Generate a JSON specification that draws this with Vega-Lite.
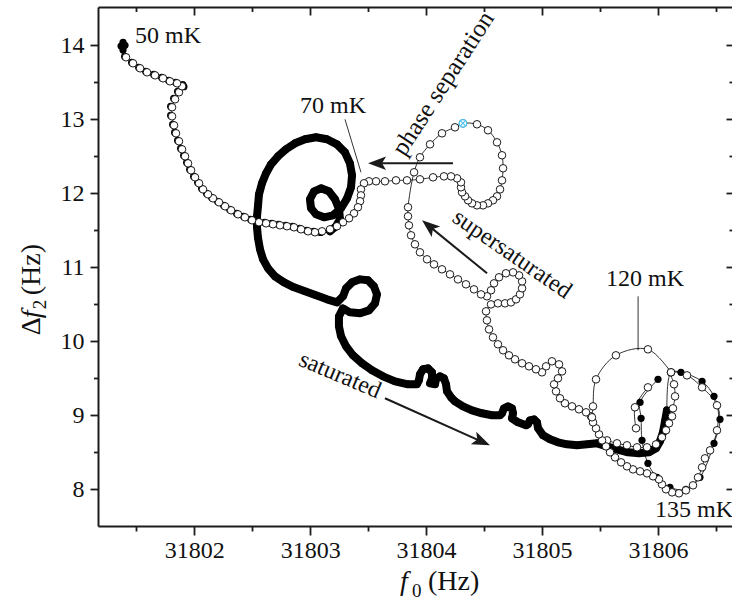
{
  "$schema": "https://vega.github.io/schema/vega-lite/v6.json",
  "width": 635,
  "height": 519,
  "autosize": {"type": "none"},
  "padding": {"left": 98, "top": 7, "right": 0, "bottom": 84},
  "background": "white",
  "config": {
    "view": {"stroke": null},
    "axis": {
      "domainColor": "#1c1c1c",
      "domainWidth": 2,
      "tickColor": "#1c1c1c",
      "tickWidth": 1.8,
      "labelFont": "Liberation Serif",
      "labelFontSize": 24,
      "labelColor": "#111111",
      "grid": false,
      "labelOverlap": false
    }
  },
  "datasets": {
    "warming": [
      {"f0": 31801.385, "df2": 14.041, "sweep": "w0"},
      {"f0": 31801.368, "df2": 13.990, "sweep": "w0"},
      {"f0": 31801.402, "df2": 14.000, "sweep": "w0"},
      {"f0": 31801.385, "df2": 13.935, "sweep": "w0"},
      {"f0": 31801.399, "df2": 13.850, "sweep": "w0"},
      {"f0": 31801.459, "df2": 13.769, "sweep": "w0"},
      {"f0": 31801.520, "df2": 13.701, "sweep": "w0"},
      {"f0": 31801.580, "df2": 13.647, "sweep": "w0"},
      {"f0": 31801.649, "df2": 13.606, "sweep": "w0"},
      {"f0": 31801.718, "df2": 13.566, "sweep": "w0"},
      {"f0": 31801.778, "df2": 13.525, "sweep": "w0"},
      {"f0": 31801.839, "df2": 13.498, "sweep": "w0"},
      {"f0": 31801.900, "df2": 13.470, "sweep": "w0"},
      {"f0": 31801.910, "df2": 13.440, "sweep": "w0"},
      {"f0": 31801.856, "df2": 13.377, "sweep": "w0"},
      {"f0": 31801.822, "df2": 13.282, "sweep": "w0"},
      {"f0": 31801.796, "df2": 13.174, "sweep": "w0"},
      {"f0": 31801.796, "df2": 13.052, "sweep": "w0"},
      {"f0": 31801.813, "df2": 12.930, "sweep": "w0"},
      {"f0": 31801.830, "df2": 12.822, "sweep": "w0"},
      {"f0": 31801.856, "df2": 12.714, "sweep": "w0"},
      {"f0": 31801.882, "df2": 12.606, "sweep": "w0"},
      {"f0": 31801.908, "df2": 12.511, "sweep": "w0"},
      {"f0": 31801.934, "df2": 12.416, "sweep": "w0"},
      {"f0": 31801.960, "df2": 12.322, "sweep": "w0"},
      {"f0": 31801.994, "df2": 12.227, "sweep": "w0"},
      {"f0": 31802.029, "df2": 12.146, "sweep": "w0"},
      {"f0": 31802.063, "df2": 12.064, "sweep": "w0"},
      {"f0": 31802.106, "df2": 11.997, "sweep": "w0"},
      {"f0": 31802.149, "df2": 11.943, "sweep": "w0"},
      {"f0": 31802.201, "df2": 11.889, "sweep": "w0"},
      {"f0": 31802.253, "df2": 11.835, "sweep": "w0"},
      {"f0": 31802.305, "df2": 11.781, "sweep": "w0"},
      {"f0": 31802.365, "df2": 11.727, "sweep": "w0"},
      {"f0": 31802.425, "df2": 11.686, "sweep": "w0"},
      {"f0": 31802.486, "df2": 11.646, "sweep": "w0"},
      {"f0": 31802.546, "df2": 11.619, "sweep": "w0"},
      {"f0": 31802.607, "df2": 11.605, "sweep": "w0"},
      {"f0": 31802.667, "df2": 11.592, "sweep": "w0"},
      {"f0": 31802.727, "df2": 11.578, "sweep": "w0"},
      {"f0": 31802.788, "df2": 11.565, "sweep": "w0"},
      {"f0": 31802.848, "df2": 11.551, "sweep": "w0"},
      {"f0": 31802.909, "df2": 11.524, "sweep": "w0"},
      {"f0": 31802.969, "df2": 11.497, "sweep": "w0"},
      {"f0": 31803.029, "df2": 11.484, "sweep": "w0"},
      {"f0": 31803.090, "df2": 11.470, "sweep": "w0"},
      {"f0": 31803.171, "df2": 11.485, "sweep": "w1"},
      {"f0": 31803.223, "df2": 11.553, "sweep": "w1"},
      {"f0": 31803.257, "df2": 11.647, "sweep": "w1"},
      {"f0": 31803.249, "df2": 11.782, "sweep": "w1"},
      {"f0": 31803.214, "df2": 11.918, "sweep": "w1"},
      {"f0": 31803.162, "df2": 12.025, "sweep": "w1"},
      {"f0": 31803.093, "df2": 12.066, "sweep": "w1"},
      {"f0": 31803.033, "df2": 12.025, "sweep": "w1"},
      {"f0": 31802.998, "df2": 11.918, "sweep": "w1"},
      {"f0": 31803.007, "df2": 11.796, "sweep": "w1"},
      {"f0": 31803.050, "df2": 11.715, "sweep": "w1"},
      {"f0": 31803.119, "df2": 11.674, "sweep": "w1"},
      {"f0": 31803.197, "df2": 11.701, "sweep": "w1"},
      {"f0": 31803.266, "df2": 11.796, "sweep": "w1"},
      {"f0": 31803.318, "df2": 11.931, "sweep": "w1"},
      {"f0": 31803.352, "df2": 12.080, "sweep": "w1"},
      {"f0": 31803.361, "df2": 12.242, "sweep": "w1"},
      {"f0": 31803.343, "df2": 12.404, "sweep": "w1"},
      {"f0": 31803.300, "df2": 12.553, "sweep": "w1"},
      {"f0": 31803.231, "df2": 12.661, "sweep": "w1"},
      {"f0": 31803.145, "df2": 12.729, "sweep": "w1"},
      {"f0": 31803.050, "df2": 12.756, "sweep": "w1"},
      {"f0": 31802.955, "df2": 12.729, "sweep": "w1"},
      {"f0": 31802.869, "df2": 12.675, "sweep": "w1"},
      {"f0": 31802.791, "df2": 12.594, "sweep": "w1"},
      {"f0": 31802.722, "df2": 12.499, "sweep": "w1"},
      {"f0": 31802.662, "df2": 12.391, "sweep": "w1"},
      {"f0": 31802.619, "df2": 12.269, "sweep": "w1"},
      {"f0": 31802.584, "df2": 12.134, "sweep": "w1"},
      {"f0": 31802.558, "df2": 11.985, "sweep": "w1"},
      {"f0": 31802.550, "df2": 11.836, "sweep": "w1"},
      {"f0": 31802.541, "df2": 11.688, "sweep": "w1"},
      {"f0": 31802.541, "df2": 11.539, "sweep": "w1"},
      {"f0": 31802.550, "df2": 11.390, "sweep": "w1"},
      {"f0": 31802.567, "df2": 11.241, "sweep": "w1"},
      {"f0": 31802.593, "df2": 11.106, "sweep": "w1"},
      {"f0": 31802.636, "df2": 10.984, "sweep": "w1"},
      {"f0": 31802.696, "df2": 10.876, "sweep": "w1"},
      {"f0": 31802.774, "df2": 10.795, "sweep": "w1"},
      {"f0": 31802.860, "df2": 10.727, "sweep": "w1"},
      {"f0": 31802.955, "df2": 10.673, "sweep": "w1"},
      {"f0": 31803.050, "df2": 10.619, "sweep": "w1"},
      {"f0": 31803.145, "df2": 10.565, "sweep": "w1"},
      {"f0": 31803.231, "df2": 10.524, "sweep": "w1"},
      {"f0": 31803.283, "df2": 10.606, "sweep": "w1"},
      {"f0": 31803.309, "df2": 10.714, "sweep": "w1"},
      {"f0": 31803.361, "df2": 10.795, "sweep": "w1"},
      {"f0": 31803.430, "df2": 10.835, "sweep": "w1"},
      {"f0": 31803.499, "df2": 10.822, "sweep": "w1"},
      {"f0": 31803.550, "df2": 10.741, "sweep": "w1"},
      {"f0": 31803.576, "df2": 10.632, "sweep": "w1"},
      {"f0": 31803.559, "df2": 10.511, "sweep": "w1"},
      {"f0": 31803.507, "df2": 10.416, "sweep": "w1"},
      {"f0": 31803.430, "df2": 10.376, "sweep": "w1"},
      {"f0": 31803.343, "df2": 10.389, "sweep": "w1"},
      {"f0": 31803.283, "df2": 10.443, "sweep": "w1"},
      {"f0": 31803.248, "df2": 10.335, "sweep": "w1"},
      {"f0": 31803.248, "df2": 10.200, "sweep": "w1"},
      {"f0": 31803.266, "df2": 10.065, "sweep": "w1"},
      {"f0": 31803.309, "df2": 9.930, "sweep": "w1"},
      {"f0": 31803.369, "df2": 9.808, "sweep": "w1"},
      {"f0": 31803.447, "df2": 9.700, "sweep": "w1"},
      {"f0": 31803.533, "df2": 9.605, "sweep": "w1"},
      {"f0": 31803.628, "df2": 9.524, "sweep": "w1"},
      {"f0": 31803.732, "df2": 9.456, "sweep": "w1"},
      {"f0": 31803.844, "df2": 9.416, "sweep": "w1"},
      {"f0": 31803.921, "df2": 9.416, "sweep": "w1"},
      {"f0": 31803.938, "df2": 9.470, "sweep": "w1"},
      {"f0": 31803.947, "df2": 9.551, "sweep": "w1"},
      {"f0": 31803.973, "df2": 9.619, "sweep": "w1"},
      {"f0": 31804.016, "df2": 9.632, "sweep": "w1"},
      {"f0": 31804.051, "df2": 9.578, "sweep": "w1"},
      {"f0": 31804.051, "df2": 9.497, "sweep": "w1"},
      {"f0": 31804.034, "df2": 9.429, "sweep": "w1"},
      {"f0": 31804.077, "df2": 9.416, "sweep": "w1"},
      {"f0": 31804.085, "df2": 9.483, "sweep": "w1"},
      {"f0": 31804.120, "df2": 9.524, "sweep": "w1"},
      {"f0": 31804.154, "df2": 9.497, "sweep": "w1"},
      {"f0": 31804.172, "df2": 9.416, "sweep": "w1"},
      {"f0": 31804.180, "df2": 9.321, "sweep": "w1"},
      {"f0": 31804.215, "df2": 9.240, "sweep": "w1"},
      {"f0": 31804.249, "df2": 9.186, "sweep": "w1"},
      {"f0": 31804.318, "df2": 9.118, "sweep": "w1"},
      {"f0": 31804.396, "df2": 9.064, "sweep": "w1"},
      {"f0": 31804.482, "df2": 9.024, "sweep": "w1"},
      {"f0": 31804.568, "df2": 8.997, "sweep": "w1"},
      {"f0": 31804.638, "df2": 8.997, "sweep": "w1"},
      {"f0": 31804.655, "df2": 9.024, "sweep": "w1"},
      {"f0": 31804.672, "df2": 9.091, "sweep": "w1"},
      {"f0": 31804.707, "df2": 9.118, "sweep": "w1"},
      {"f0": 31804.741, "df2": 9.091, "sweep": "w1"},
      {"f0": 31804.750, "df2": 9.024, "sweep": "w1"},
      {"f0": 31804.741, "df2": 8.956, "sweep": "w1"},
      {"f0": 31804.793, "df2": 8.902, "sweep": "w1"},
      {"f0": 31804.862, "df2": 8.861, "sweep": "w1"},
      {"f0": 31804.879, "df2": 8.875, "sweep": "w1"},
      {"f0": 31804.896, "df2": 8.929, "sweep": "w1"},
      {"f0": 31804.931, "df2": 8.942, "sweep": "w1"},
      {"f0": 31804.957, "df2": 8.902, "sweep": "w1"},
      {"f0": 31804.966, "df2": 8.821, "sweep": "w1"},
      {"f0": 31805.009, "df2": 8.726, "sweep": "w1"},
      {"f0": 31805.069, "df2": 8.672, "sweep": "w1"},
      {"f0": 31805.138, "df2": 8.631, "sweep": "w1"},
      {"f0": 31805.216, "df2": 8.604, "sweep": "w1"},
      {"f0": 31805.302, "df2": 8.591, "sweep": "w1"},
      {"f0": 31805.388, "df2": 8.604, "sweep": "w1"},
      {"f0": 31805.475, "df2": 8.618, "sweep": "w1"},
      {"f0": 31805.561, "df2": 8.577, "sweep": "w1"},
      {"f0": 31805.647, "df2": 8.537, "sweep": "w1"},
      {"f0": 31805.742, "df2": 8.496, "sweep": "w1"},
      {"f0": 31805.837, "df2": 8.483, "sweep": "w1"},
      {"f0": 31805.923, "df2": 8.496, "sweep": "w1"},
      {"f0": 31805.984, "df2": 8.550, "sweep": "w1"},
      {"f0": 31806.018, "df2": 8.645, "sweep": "w1"},
      {"f0": 31806.044, "df2": 8.767, "sweep": "w1"},
      {"f0": 31806.061, "df2": 8.915, "sweep": "w1"},
      {"f0": 31806.078, "df2": 9.064, "sweep": "w1"},
      {"f0": 31806.078, "df2": 9.064, "sweep": "w2"},
      {"f0": 31806.113, "df2": 9.578, "sweep": "w2"},
      {"f0": 31806.199, "df2": 9.578, "sweep": "w2"},
      {"f0": 31806.381, "df2": 9.456, "sweep": "w2"},
      {"f0": 31806.484, "df2": 9.253, "sweep": "w2"},
      {"f0": 31806.536, "df2": 8.942, "sweep": "w2"},
      {"f0": 31806.484, "df2": 8.618, "sweep": "w2"},
      {"f0": 31806.363, "df2": 8.158, "sweep": "w2"},
      {"f0": 31806.242, "df2": 7.996, "sweep": "w2"},
      {"f0": 31806.104, "df2": 8.023, "sweep": "w2"},
      {"f0": 31805.992, "df2": 8.158, "sweep": "w2"},
      {"f0": 31805.914, "df2": 8.347, "sweep": "w2"},
      {"f0": 31805.863, "df2": 8.658, "sweep": "w2"},
      {"f0": 31805.855, "df2": 8.956, "sweep": "w2"},
      {"f0": 31805.846, "df2": 9.172, "sweep": "w2"},
      {"f0": 31806.001, "df2": 9.483, "sweep": "w2"}
    ],
    "cooling": [
      {"f0": 31805.561, "df2": 8.658, "sweep": "c1"},
      {"f0": 31805.647, "df2": 8.618, "sweep": "c1"},
      {"f0": 31805.733, "df2": 8.591, "sweep": "c1"},
      {"f0": 31805.820, "df2": 8.564, "sweep": "c1"},
      {"f0": 31805.906, "df2": 8.564, "sweep": "c1"},
      {"f0": 31805.984, "df2": 8.604, "sweep": "c1"},
      {"f0": 31806.035, "df2": 8.699, "sweep": "c1"},
      {"f0": 31806.070, "df2": 8.794, "sweep": "c1"},
      {"f0": 31806.096, "df2": 8.888, "sweep": "c1"},
      {"f0": 31806.122, "df2": 8.983, "sweep": "c1"},
      {"f0": 31806.130, "df2": 9.091, "sweep": "c1"},
      {"f0": 31806.148, "df2": 9.253, "sweep": "c1"},
      {"f0": 31806.139, "df2": 9.416, "sweep": "c1"},
      {"f0": 31806.113, "df2": 9.578, "sweep": "c1"},
      {"f0": 31806.251, "df2": 9.537, "sweep": "c1"},
      {"f0": 31806.381, "df2": 9.375, "sweep": "c1"},
      {"f0": 31806.510, "df2": 9.132, "sweep": "c1"},
      {"f0": 31806.510, "df2": 8.794, "sweep": "c1"},
      {"f0": 31806.450, "df2": 8.523, "sweep": "c1"},
      {"f0": 31806.406, "df2": 8.415, "sweep": "c1"},
      {"f0": 31806.381, "df2": 8.293, "sweep": "c1"},
      {"f0": 31806.346, "df2": 8.158, "sweep": "c1"},
      {"f0": 31806.303, "df2": 8.050, "sweep": "c1"},
      {"f0": 31806.242, "df2": 7.982, "sweep": "c1"},
      {"f0": 31806.182, "df2": 7.942, "sweep": "c1"},
      {"f0": 31806.122, "df2": 7.955, "sweep": "c1"},
      {"f0": 31806.070, "df2": 7.996, "sweep": "c1"},
      {"f0": 31806.035, "df2": 8.063, "sweep": "c1"},
      {"f0": 31806.009, "df2": 8.131, "sweep": "c1"},
      {"f0": 31805.958, "df2": 8.172, "sweep": "c1"},
      {"f0": 31805.906, "df2": 8.212, "sweep": "c1"},
      {"f0": 31805.846, "df2": 8.239, "sweep": "c1"},
      {"f0": 31805.785, "df2": 8.266, "sweep": "c1"},
      {"f0": 31805.733, "df2": 8.307, "sweep": "c1"},
      {"f0": 31805.682, "df2": 8.361, "sweep": "c1"},
      {"f0": 31805.630, "df2": 8.428, "sweep": "c1"},
      {"f0": 31805.587, "df2": 8.496, "sweep": "c1"},
      {"f0": 31805.552, "df2": 8.577, "sweep": "c1"},
      {"f0": 31805.518, "df2": 8.658, "sweep": "c1"},
      {"f0": 31805.492, "df2": 8.740, "sweep": "c1"},
      {"f0": 31805.466, "df2": 8.821, "sweep": "c1"},
      {"f0": 31805.440, "df2": 8.902, "sweep": "c1"},
      {"f0": 31805.423, "df2": 8.983, "sweep": "c1"},
      {"f0": 31805.380, "df2": 9.037, "sweep": "c1"},
      {"f0": 31805.319, "df2": 9.078, "sweep": "c1"},
      {"f0": 31805.259, "df2": 9.118, "sweep": "c1"},
      {"f0": 31805.198, "df2": 9.159, "sweep": "c1"},
      {"f0": 31805.155, "df2": 9.227, "sweep": "c1"},
      {"f0": 31805.121, "df2": 9.321, "sweep": "c1"},
      {"f0": 31805.104, "df2": 9.416, "sweep": "c1"},
      {"f0": 31805.138, "df2": 9.497, "sweep": "c1"},
      {"f0": 31805.173, "df2": 9.591, "sweep": "c1"},
      {"f0": 31805.147, "df2": 9.686, "sweep": "c1"},
      {"f0": 31805.086, "df2": 9.727, "sweep": "c1"},
      {"f0": 31805.035, "df2": 9.659, "sweep": "c1"},
      {"f0": 31805.000, "df2": 9.578, "sweep": "c1"},
      {"f0": 31804.948, "df2": 9.619, "sweep": "c1"},
      {"f0": 31804.888, "df2": 9.659, "sweep": "c1"},
      {"f0": 31804.828, "df2": 9.700, "sweep": "c1"},
      {"f0": 31804.767, "df2": 9.754, "sweep": "c1"},
      {"f0": 31804.715, "df2": 9.808, "sweep": "c1"},
      {"f0": 31804.664, "df2": 9.876, "sweep": "c1"},
      {"f0": 31804.620, "df2": 9.957, "sweep": "c1"},
      {"f0": 31804.577, "df2": 10.051, "sweep": "c1"},
      {"f0": 31804.543, "df2": 10.159, "sweep": "c1"},
      {"f0": 31804.525, "df2": 10.281, "sweep": "c1"},
      {"f0": 31804.517, "df2": 10.403, "sweep": "c1"},
      {"f0": 31804.560, "df2": 10.497, "sweep": "c1"},
      {"f0": 31804.620, "df2": 10.511, "sweep": "c1"},
      {"f0": 31804.681, "df2": 10.511, "sweep": "c1"},
      {"f0": 31804.732, "df2": 10.524, "sweep": "c1"},
      {"f0": 31804.776, "df2": 10.565, "sweep": "c1"},
      {"f0": 31804.810, "df2": 10.632, "sweep": "c1"},
      {"f0": 31804.828, "df2": 10.714, "sweep": "c1"},
      {"f0": 31804.828, "df2": 10.808, "sweep": "c1"},
      {"f0": 31804.802, "df2": 10.889, "sweep": "c1"},
      {"f0": 31804.750, "df2": 10.930, "sweep": "c1"},
      {"f0": 31804.689, "df2": 10.917, "sweep": "c1"},
      {"f0": 31804.629, "df2": 10.863, "sweep": "c1"},
      {"f0": 31804.586, "df2": 10.781, "sweep": "c1"},
      {"f0": 31804.560, "df2": 10.687, "sweep": "c1"},
      {"f0": 31804.525, "df2": 10.606, "sweep": "c1"},
      {"f0": 31804.474, "df2": 10.632, "sweep": "c1"},
      {"f0": 31804.413, "df2": 10.700, "sweep": "c1"},
      {"f0": 31804.344, "df2": 10.768, "sweep": "c1"},
      {"f0": 31804.275, "df2": 10.835, "sweep": "c1"},
      {"f0": 31804.206, "df2": 10.903, "sweep": "c1"},
      {"f0": 31804.137, "df2": 10.971, "sweep": "c1"},
      {"f0": 31804.068, "df2": 11.038, "sweep": "c1"},
      {"f0": 31804.008, "df2": 11.106, "sweep": "c1"},
      {"f0": 31803.947, "df2": 11.201, "sweep": "c1"},
      {"f0": 31803.904, "df2": 11.309, "sweep": "c1"},
      {"f0": 31803.870, "df2": 11.431, "sweep": "c1"},
      {"f0": 31803.852, "df2": 11.566, "sweep": "c1"},
      {"f0": 31803.844, "df2": 11.688, "sweep": "c1"},
      {"f0": 31803.844, "df2": 11.810, "sweep": "c1"},
      {"f0": 31803.896, "df2": 12.283, "sweep": "c1"},
      {"f0": 31803.947, "df2": 12.486, "sweep": "c1"},
      {"f0": 31804.034, "df2": 12.661, "sweep": "c1"},
      {"f0": 31804.137, "df2": 12.810, "sweep": "c1"},
      {"f0": 31804.249, "df2": 12.891, "sweep": "c1"},
      {"f0": 31804.318, "df2": 12.945, "sweep": "c1"},
      {"f0": 31804.439, "df2": 12.932, "sweep": "c1"},
      {"f0": 31804.534, "df2": 12.851, "sweep": "c1"},
      {"f0": 31804.612, "df2": 12.688, "sweep": "c1"},
      {"f0": 31804.655, "df2": 12.513, "sweep": "c1"},
      {"f0": 31804.664, "df2": 12.337, "sweep": "c1"},
      {"f0": 31804.655, "df2": 12.174, "sweep": "c1"},
      {"f0": 31804.638, "df2": 12.052, "sweep": "c1"},
      {"f0": 31804.612, "df2": 11.958, "sweep": "c1"},
      {"f0": 31804.577, "df2": 11.904, "sweep": "c1"},
      {"f0": 31804.534, "df2": 11.863, "sweep": "c1"},
      {"f0": 31804.491, "df2": 11.836, "sweep": "c1"},
      {"f0": 31804.439, "df2": 11.836, "sweep": "c1"},
      {"f0": 31804.396, "df2": 11.863, "sweep": "c1"},
      {"f0": 31804.362, "df2": 11.904, "sweep": "c1"},
      {"f0": 31804.336, "df2": 11.958, "sweep": "c1"},
      {"f0": 31804.310, "df2": 12.012, "sweep": "c1"},
      {"f0": 31804.301, "df2": 12.080, "sweep": "c1"},
      {"f0": 31804.301, "df2": 12.147, "sweep": "c1"},
      {"f0": 31804.267, "df2": 12.201, "sweep": "c1"},
      {"f0": 31804.215, "df2": 12.228, "sweep": "c1"},
      {"f0": 31804.154, "df2": 12.228, "sweep": "c1"},
      {"f0": 31804.060, "df2": 12.215, "sweep": "c1"},
      {"f0": 31803.947, "df2": 12.188, "sweep": "c1"},
      {"f0": 31803.835, "df2": 12.174, "sweep": "c1"},
      {"f0": 31803.740, "df2": 12.174, "sweep": "c1"},
      {"f0": 31803.645, "df2": 12.161, "sweep": "c1"},
      {"f0": 31803.568, "df2": 12.161, "sweep": "c1"},
      {"f0": 31803.507, "df2": 12.161, "sweep": "c1"},
      {"f0": 31803.464, "df2": 12.134, "sweep": "c1"},
      {"f0": 31803.438, "df2": 12.052, "sweep": "c1"},
      {"f0": 31803.438, "df2": 11.971, "sweep": "c1"},
      {"f0": 31803.430, "df2": 11.891, "sweep": "c1"},
      {"f0": 31803.412, "df2": 11.810, "sweep": "c1"},
      {"f0": 31803.378, "df2": 11.728, "sweep": "c1"},
      {"f0": 31803.335, "df2": 11.661, "sweep": "c1"},
      {"f0": 31803.283, "df2": 11.607, "sweep": "c1"},
      {"f0": 31803.231, "df2": 11.553, "sweep": "c1"},
      {"f0": 31803.171, "df2": 11.512, "sweep": "c1"},
      {"f0": 31803.102, "df2": 11.485, "sweep": "c1"},
      {"f0": 31803.041, "df2": 11.472, "sweep": "c1"},
      {"f0": 31802.981, "df2": 11.485, "sweep": "c1"},
      {"f0": 31802.921, "df2": 11.512, "sweep": "c1"},
      {"f0": 31802.860, "df2": 11.539, "sweep": "c1"},
      {"f0": 31802.800, "df2": 11.553, "sweep": "c1"},
      {"f0": 31802.739, "df2": 11.566, "sweep": "c1"},
      {"f0": 31802.679, "df2": 11.580, "sweep": "c1"},
      {"f0": 31802.619, "df2": 11.593, "sweep": "c1"},
      {"f0": 31802.558, "df2": 11.607, "sweep": "c1"},
      {"f0": 31802.498, "df2": 11.634, "sweep": "c1"},
      {"f0": 31802.437, "df2": 11.674, "sweep": "c1"},
      {"f0": 31802.377, "df2": 11.715, "sweep": "c1"},
      {"f0": 31802.317, "df2": 11.769, "sweep": "c1"},
      {"f0": 31802.265, "df2": 11.823, "sweep": "c1"},
      {"f0": 31802.213, "df2": 11.877, "sweep": "c1"},
      {"f0": 31802.161, "df2": 11.931, "sweep": "c1"},
      {"f0": 31802.118, "df2": 11.985, "sweep": "c1"},
      {"f0": 31802.075, "df2": 12.052, "sweep": "c1"},
      {"f0": 31802.041, "df2": 12.134, "sweep": "c1"},
      {"f0": 31802.006, "df2": 12.215, "sweep": "c1"},
      {"f0": 31801.972, "df2": 12.310, "sweep": "c1"},
      {"f0": 31801.946, "df2": 12.404, "sweep": "c1"},
      {"f0": 31801.920, "df2": 12.499, "sweep": "c1"},
      {"f0": 31801.894, "df2": 12.594, "sweep": "c1"},
      {"f0": 31801.868, "df2": 12.702, "sweep": "c1"},
      {"f0": 31801.842, "df2": 12.810, "sweep": "c1"},
      {"f0": 31801.825, "df2": 12.918, "sweep": "c1"},
      {"f0": 31801.808, "df2": 13.040, "sweep": "c1"},
      {"f0": 31801.808, "df2": 13.162, "sweep": "c1"},
      {"f0": 31801.834, "df2": 13.270, "sweep": "c1"},
      {"f0": 31801.868, "df2": 13.365, "sweep": "c1"},
      {"f0": 31801.894, "df2": 13.446, "sweep": "c1"},
      {"f0": 31801.851, "df2": 13.486, "sweep": "c1"},
      {"f0": 31801.790, "df2": 13.513, "sweep": "c1"},
      {"f0": 31801.730, "df2": 13.554, "sweep": "c1"},
      {"f0": 31801.661, "df2": 13.594, "sweep": "c1"},
      {"f0": 31801.592, "df2": 13.635, "sweep": "c1"},
      {"f0": 31801.532, "df2": 13.689, "sweep": "c1"},
      {"f0": 31801.471, "df2": 13.757, "sweep": "c1"},
      {"f0": 31801.411, "df2": 13.838, "sweep": "c1"},
      {"f0": 31805.431, "df2": 8.970, "sweep": "c2"},
      {"f0": 31805.440, "df2": 9.118, "sweep": "c2"},
      {"f0": 31805.466, "df2": 9.483, "sweep": "c2"},
      {"f0": 31805.638, "df2": 9.808, "sweep": "c2"},
      {"f0": 31805.914, "df2": 9.889, "sweep": "c2"},
      {"f0": 31806.113, "df2": 9.578, "sweep": "c2"},
      {"f0": 31805.811, "df2": 8.821, "sweep": "c3"},
      {"f0": 31805.802, "df2": 9.105, "sweep": "c3"},
      {"f0": 31805.914, "df2": 9.375, "sweep": "c3"}
    ]
  },
  "encoding": {
    "x": {"field": "f0", "type": "quantitative", "scale": {"domain": [31801.169, 31806.648], "nice": false, "zero": false}, "axis": null},
    "y": {"field": "df2", "type": "quantitative", "scale": {"domain": [7.5, 14.518], "nice": false, "zero": false}, "axis": null}
  },
  "layer": [
    {
      "data": {"name": "warming"},
      "transform": [{"filter": "datum.sweep === 'w0'"}],
      "mark": {"type": "point", "shape": "circle", "filled": true, "color": "black", "size": 52, "opacity": 1},
      "encoding": {
        "x": {"field": "f0", "type": "quantitative", "scale": {"domain": [31801.169, 31806.648], "nice": false, "zero": false},
              "axis": {"orient": "bottom", "values": [31802, 31803, 31804, 31805, 31806], "format": "d", "tickSize": 9, "labelPadding": 3, "labelFlush": false, "title": null}},
        "y": {"field": "df2", "type": "quantitative", "scale": {"domain": [7.5, 14.518], "nice": false, "zero": false},
              "axis": {"orient": "left", "values": [8, 9, 10, 11, 12, 13, 14], "format": "d", "tickSize": 8, "labelPadding": 6, "title": null}}
      }
    },
    {
      "data": {"name": "warming"},
      "transform": [{"filter": "datum.sweep === 'w1'"}],
      "mark": {"type": "line", "color": "black", "strokeWidth": 8, "strokeCap": "round", "strokeJoin": "round"},
      "encoding": {
        "order": {"value": null},
        "x": {"field": "f0", "type": "quantitative", "scale": {"domain": [31801.169, 31806.648], "nice": false, "zero": false},
              "axis": {"orient": "bottom", "values": [31801.5, 31802.5, 31803.5, 31804.5, 31805.5, 31806.5], "tickSize": 5, "labels": false, "domain": false, "title": null}},
        "y": {"field": "df2", "type": "quantitative", "scale": {"domain": [7.5, 14.518], "nice": false, "zero": false},
              "axis": {"orient": "left", "values": [8.5, 9.5, 10.5, 11.5, 12.5, 13.5], "tickSize": 4.5, "labels": false, "domain": false, "title": null}}
      }
    },
    {
      "data": {"name": "warming"},
      "transform": [{"filter": "datum.sweep === 'w1'"}],
      "mark": {"type": "point", "shape": "circle", "filled": true, "color": "black", "size": 55, "opacity": 1},
      "encoding": {
        "x": {"field": "f0", "type": "quantitative", "scale": {"domain": [31801.169, 31806.648], "nice": false, "zero": false},
              "axis": {"orient": "top", "values": [31802, 31803, 31804, 31805, 31806], "tickSize": -8, "labels": false, "title": null}},
        "y": {"field": "df2", "type": "quantitative", "scale": {"domain": [7.5, 14.518], "nice": false, "zero": false},
              "axis": {"orient": "right", "values": [8, 9, 10, 11, 12, 13, 14], "tickSize": -7, "labels": false, "domain": false, "title": null}}
      }
    },
    {
      "data": {"name": "warming"},
      "transform": [{"filter": "datum.sweep === 'w2'"}],
      "mark": {"type": "line", "color": "black", "strokeWidth": 0.8, "interpolate": "catmull-rom"},
      "encoding": {
        "order": {"value": null},
        "x": {"field": "f0", "type": "quantitative", "scale": {"domain": [31801.169, 31806.648], "nice": false, "zero": false},
              "axis": {"orient": "top", "values": [31801.5, 31802.5, 31803.5, 31804.5, 31805.5, 31806.5], "tickSize": -4.5, "labels": false, "domain": false, "title": null}},
        "y": {"field": "df2", "type": "quantitative", "scale": {"domain": [7.5, 14.518], "nice": false, "zero": false},
              "axis": {"orient": "right", "values": [8.5, 9.5, 10.5, 11.5, 12.5, 13.5], "tickSize": -4, "labels": false, "domain": false, "title": null}}
      }
    },
    {
      "data": {"name": "warming"},
      "transform": [{"filter": "datum.sweep === 'w2'"}],
      "mark": {"type": "point", "shape": "circle", "filled": true, "color": "black", "size": 52, "opacity": 1}
    },
    {
      "data": {"name": "cooling"},
      "mark": {"type": "line", "color": "black", "strokeWidth": 0.8, "interpolate": "catmull-rom"},
      "encoding": {"order": {"value": null}, "detail": {"field": "sweep"}}
    },
    {
      "data": {"name": "cooling"},
      "mark": {"type": "point", "shape": "circle", "filled": true, "fill": "white", "stroke": "black", "strokeWidth": 0.9, "size": 57, "opacity": 1}
    },
    {
      "data": {"values": [{"f0": 31804.318, "df2": 12.945}]},
      "mark": {"type": "point", "shape": "circle", "filled": true, "fill": "white", "stroke": "#4cc3f0", "strokeWidth": 1.2, "size": 57, "opacity": 1}
    },
    {
      "data": {"values": [{"f0": 31804.318, "df2": 12.945}]},
      "mark": {"type": "point", "shape": "M-0.7,-0.7L0.7,0.7M0.7,-0.7L-0.7,0.7", "filled": false, "stroke": "#4cc3f0", "strokeWidth": 1.1, "size": 57, "opacity": 1}
    },
    {
      "data": {"values": [
        {"f0": 31803.300, "df2": 12.999, "f0_end": 31803.438, "df2_end": 12.283},
        {"f0": 31805.829, "df2": 10.606, "f0_end": 31805.829, "df2_end": 9.876}
      ]},
      "mark": {"type": "rule", "color": "black", "strokeWidth": 0.8},
      "encoding": {"x2": {"field": "f0_end"}, "y2": {"field": "df2_end"}}
    },
    {
      "data": {"values": [
        {"f0": 31804.232, "df2": 12.404, "f0_end": 31803.585, "df2_end": 12.404},
        {"f0": 31804.526, "df2": 10.917, "f0_end": 31804.045, "df2_end": 11.531},
        {"f0": 31803.645, "df2": 9.227, "f0_end": 31804.456, "df2_end": 8.657}
      ]},
      "mark": {"type": "rule", "color": "#1a1a1a", "strokeWidth": 2},
      "encoding": {"x2": {"field": "f0_end"}, "y2": {"field": "df2_end"}}
    },
    {
      "data": {"values": [{"f0": 31803.499, "df2": 12.404}]},
      "mark": {"type": "point", "shape": "M0,0L-2,-0.75L-1.55,0L-2,0.75Z", "filled": true, "color": "#1a1a1a", "size": 324, "angle": 180, "opacity": 1}
    },
    {
      "data": {"values": [{"f0": 31803.965, "df2": 11.634}]},
      "mark": {"type": "point", "shape": "M0,0L-2,-0.75L-1.55,0L-2,0.75Z", "filled": true, "color": "#1a1a1a", "size": 324, "angle": 219.2, "opacity": 1}
    },
    {
      "data": {"values": [{"f0": 31804.551, "df2": 8.591}]},
      "mark": {"type": "point", "shape": "M0,0L-2,-0.75L-1.55,0L-2,0.75Z", "filled": true, "color": "#1a1a1a", "size": 324, "angle": 24.1, "opacity": 1}
    },
    {
      "data": {"values": [
        {"label": "50 mK", "f0": 31801.489, "df2": 14.027},
        {"label": "70 mK", "f0": 31802.912, "df2": 13.080},
        {"label": "120 mK", "f0": 31805.552, "df2": 10.741},
        {"label": "135 mK", "f0": 31805.975, "df2": 7.617}
      ]},
      "mark": {"type": "text", "font": "Liberation Serif", "fontSize": 24, "align": "left", "baseline": "alphabetic", "color": "#111111"},
      "encoding": {"text": {"field": "label"}}
    },
    {
      "data": {"values": [{"label": "phase separation", "f0": 31804.146, "df2": 13.486}]},
      "mark": {"type": "text", "font": "Liberation Serif", "fontSize": 25, "align": "center", "baseline": "middle", "angle": 303, "color": "#111111"},
      "encoding": {"text": {"field": "label"}}
    },
    {
      "data": {"values": [{"label": "supersaturated", "f0": 31804.741, "df2": 11.174}]},
      "mark": {"type": "text", "font": "Liberation Serif", "fontSize": 24, "align": "center", "baseline": "middle", "angle": 34.5, "color": "#111111"},
      "encoding": {"text": {"field": "label"}}
    },
    {
      "data": {"values": [{"label": "saturated", "f0": 31803.257, "df2": 9.537}]},
      "mark": {"type": "text", "font": "Liberation Serif", "fontSize": 24, "align": "center", "baseline": "middle", "angle": 23, "color": "#111111"},
      "encoding": {"text": {"field": "label"}}
    },
    {
      "data": {"values": [{"label": "f", "f0": 31803.775, "df2": 6.630}]},
      "mark": {"type": "text", "font": "Liberation Serif", "fontSize": 28, "fontStyle": "italic", "align": "left", "baseline": "alphabetic", "color": "#111111"},
      "encoding": {"text": {"field": "label"}}
    },
    {
      "data": {"values": [{"label": "0", "f0": 31803.878, "df2": 6.535}]},
      "mark": {"type": "text", "font": "Liberation Serif", "fontSize": 19, "align": "left", "baseline": "alphabetic", "color": "#111111"},
      "encoding": {"text": {"field": "label"}}
    },
    {
      "data": {"values": [{"label": "(Hz)", "f0": 31804.016, "df2": 6.630}]},
      "mark": {"type": "text", "font": "Liberation Serif", "fontSize": 28, "align": "left", "baseline": "alphabetic", "color": "#111111"},
      "encoding": {"text": {"field": "label"}}
    },
    {
      "data": {"values": [
        {"label": "Δ", "f0": 31800.669, "df2": 10.078},
        {"label": "(Hz)", "f0": 31800.669, "df2": 10.619}
      ]},
      "mark": {"type": "text", "font": "Liberation Serif", "fontSize": 28, "align": "left", "baseline": "alphabetic", "angle": 270, "color": "#111111"},
      "encoding": {"text": {"field": "label"}}
    },
    {
      "data": {"values": [{"label": "f", "f0": 31800.669, "df2": 10.308}]},
      "mark": {"type": "text", "font": "Liberation Serif", "fontSize": 28, "fontStyle": "italic", "align": "left", "baseline": "alphabetic", "angle": 270, "color": "#111111"},
      "encoding": {"text": {"field": "label"}}
    },
    {
      "data": {"values": [{"label": "2", "f0": 31800.720, "df2": 10.430}]},
      "mark": {"type": "text", "font": "Liberation Serif", "fontSize": 19, "align": "left", "baseline": "alphabetic", "angle": 270, "color": "#111111"},
      "encoding": {"text": {"field": "label"}}
    }
  ],
  "resolve": {"axis": {"x": "independent", "y": "independent"}}
}
